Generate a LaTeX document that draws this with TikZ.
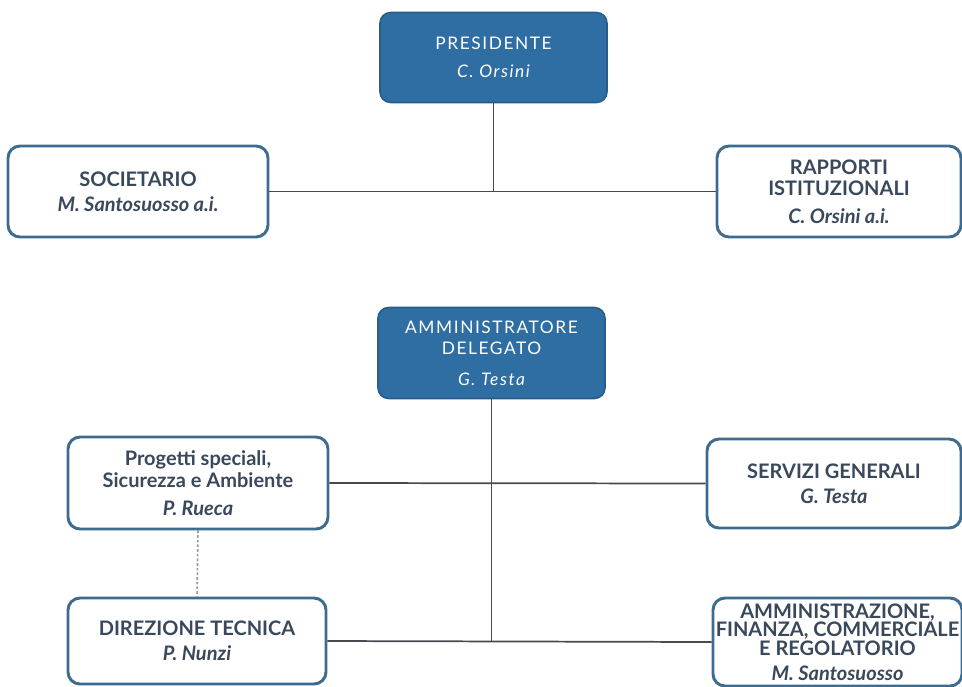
\documentclass[tikz,border=0pt]{standalone}
\usepackage{fontspec}
\setmainfont{Lato}
\newfontfamily\spacedfont[LetterSpace=9]{Lato}
\usepackage{tikz}
\usetikzlibrary{positioning}

\definecolor{headblue}{RGB}{47,110,163}
\definecolor{unitedge}{RGB}{62,108,142}
\definecolor{unittext}{RGB}{58,72,92}
\definecolor{linkgrey}{RGB}{70,74,80}

\tikzset{
	headbox/.style={draw=headblue!85!black, line width=1.2pt, fill=headblue, rounded corners=8pt,
		text=white, align=center, inner sep=2pt, minimum width=227*0.75pt, minimum height=90*0.75pt,
		font=\spacedfont\fontsize{13}{16}\selectfont},
	unitbox/.style={draw=unitedge, line width=2.2pt, fill=white, rounded corners=9pt,
		text=unittext, align=center, inner sep=2pt, font=\bfseries\fontsize{15}{16}\selectfont},
	link/.style={draw=linkgrey, line width=1.3pt},
	duty/.style={draw=gray!80, line width=1.2pt, dash pattern=on 2pt off 1.5pt}
}

\begin{document}
\begin{tikzpicture}[x=0.75pt, y=-0.75pt]
	%Canvas of 962 x 686 px
	\useasboundingbox (0,0) rectangle (962,686);
	\fill[white] (0,0) rectangle (962,686);

	%Top level
	\node[headbox] (pres) at (493.5,57.5) {PRESIDENTE\\[5pt]{\itshape C. Orsini}};
	\node[unitbox, minimum width=260*0.75pt, minimum height=91*0.75pt] (soc) at (138,191.5)
		{SOCIETARIO\\[3pt]{\itshape M. Santosuosso a.i.}};
	\node[unitbox, minimum width=244*0.75pt, minimum height=91*0.75pt] (rap) at (839,191.5)
		{RAPPORTI\\ISTITUZIONALI\\[5pt]{\itshape C. Orsini a.i.}};

	%Second level
	\node[headbox, minimum height=91*0.75pt] (ad) at (491.5,353)
		{AMMINISTRATORE\\DELEGATO\\[7pt]{\itshape G. Testa}};
	\node[unitbox, minimum width=260*0.75pt, minimum height=92*0.75pt] (prog) at (198,483)
		{Progetti speciali,\\Sicurezza e Ambiente\\[5pt]{\itshape P. Rueca}};
	\node[unitbox, minimum width=254*0.75pt, minimum height=89*0.75pt] (serv) at (834,483.5)
		{SERVIZI GENERALI\\[3pt]{\itshape G. Testa}};
	\node[unitbox, minimum width=258*0.75pt, minimum height=86*0.75pt] (dir) at (197,641)
		{DIREZIONE TECNICA\\[3pt]{\itshape P. Nunzi}};
	\node[unitbox, minimum width=249*0.75pt, minimum height=88*0.75pt,
		font=\bfseries\fontsize{15}{12.5}\selectfont] (amm) at (837.5,642)
		{AMMINISTRAZIONE,\\FINANZA, COMMERCIALE\\E REGOLATORIO\\[6pt]{\itshape M. Santosuosso}};

	%Connectors
	\draw[link] (soc.east) -- (rap.west);
	\draw[link] (pres.south) -- (pres.south |- soc.east);
	\draw[link] (prog.east) -- (serv.west);
	\draw[link] (dir.east) -- (amm.west);
	\draw[link] (ad.south) -- (ad.south |- dir.east);
	\draw[duty] (prog.south) -- (dir.north);
\end{tikzpicture}
\end{document}
